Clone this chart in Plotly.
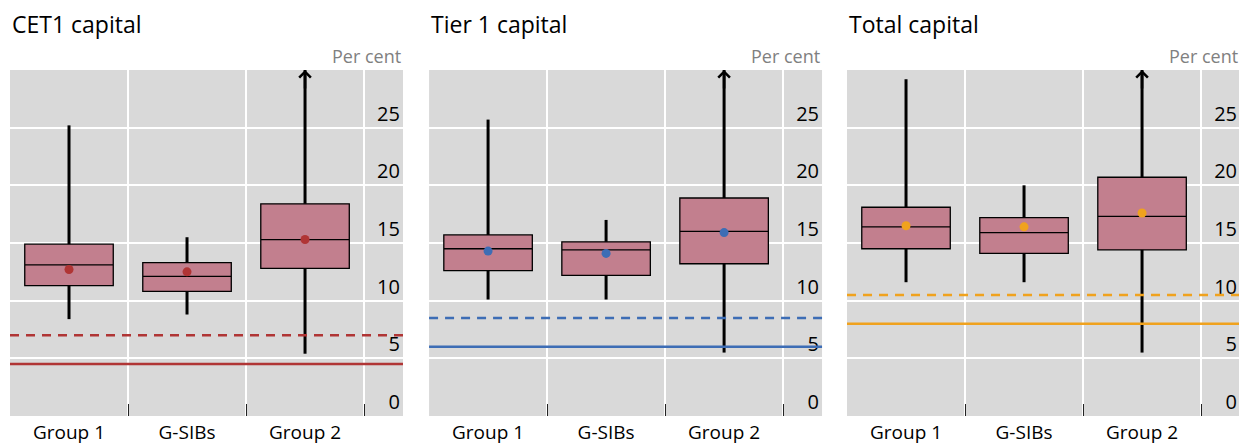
import plotly.graph_objects as go

# ------------------------- DATA -------------------------
groups = ["Group 1", "G-SIBs", "Group 2"]
panels = ["CET1 capital", "Tier 1 capital", "Total capital"]

# box statistics per panel (per cent), order follows `groups`
cet1_low = [8.4, 8.8, 5.4]
cet1_q1 = [11.3, 10.8, 12.8]
cet1_med = [13.1, 12.1, 15.3]
cet1_q3 = [14.9, 13.3, 18.4]
cet1_high = [25.2, 15.5, 30.0]
cet1_mean = [12.7, 12.5, 15.3]

tier1_low = [10.1, 10.1, 5.5]
tier1_q1 = [12.6, 12.2, 13.2]
tier1_med = [14.5, 14.4, 16.0]
tier1_q3 = [15.7, 15.1, 18.9]
tier1_high = [25.7, 17.0, 30.0]
tier1_mean = [14.3, 14.1, 15.9]

total_low = [11.6, 11.6, 5.5]
total_q1 = [14.5, 14.1, 14.4]
total_med = [16.4, 15.9, 17.3]
total_q3 = [18.1, 17.2, 20.7]
total_high = [29.2, 20.0, 30.0]
total_mean = [16.5, 16.4, 17.6]

# upper whisker runs off the scale (drawn with an arrow)
off_scale = [False, False, True]

# regulatory minimum and minimum plus conservation buffer
minimum = [4.5, 6.0, 8.0]
with_buffer = [7.0, 8.5, 10.5]

y_ticks = [0, 5, 10, 15, 20, 25]

# ------------------------- STYLE -------------------------
box_fill = "#c27f8e"
accent = ["#b03535", "#3d6db5", "#f0a21e"]
bg = "#d9d9d9"
font = "Open Sans"

stats = [
    (cet1_low, cet1_q1, cet1_med, cet1_q3, cet1_high, cet1_mean),
    (tier1_low, tier1_q1, tier1_med, tier1_q3, tier1_high, tier1_mean),
    (total_low, total_q1, total_med, total_q3, total_high, total_mean),
]

# panel domains in paper coords (plot area 1230 px wide)
domains = [[0.0, 0.3195], [0.3407, 0.6602], [0.6805, 1.0]]

fig = go.Figure()

for i, (low, q1, med, q3, high, mean) in enumerate(stats):
    xa = "x" if i == 0 else f"x{i + 1}"
    ya = "y" if i == 0 else f"y{i + 1}"

    # whiskers (thicker than box outline)
    wx, wy = [], []
    for g, lo, a, b, hi in zip(groups, low, q1, q3, high):
        wx += [g, g, None, g, g, None]
        wy += [lo, a, None, b, hi, None]
    fig.add_trace(go.Scatter(x=wx, y=wy, mode="lines", xaxis=xa, yaxis=ya,
                             line=dict(color="black", width=3),
                             showlegend=False, hoverinfo="skip"))

    fig.add_trace(go.Box(x=groups, q1=q1, median=med, q3=q3,
                         lowerfence=q1, upperfence=q3,
                         xaxis=xa, yaxis=ya, width=0.75, whiskerwidth=0,
                         fillcolor=box_fill,
                         line=dict(color="black", width=1.3),
                         boxpoints=False, showlegend=False))

    fig.add_trace(go.Scatter(x=groups, y=mean, mode="markers", xaxis=xa, yaxis=ya,
                             marker=dict(color=accent[i], size=9),
                             showlegend=False))

    # requirement lines across the panel
    fig.add_shape(type="line", xref=f"{xa} domain", yref=ya, x0=0, x1=1,
                  y0=minimum[i], y1=minimum[i], layer="above",
                  line=dict(color=accent[i], width=2.5))
    fig.add_shape(type="line", xref=f"{xa} domain", yref=ya, x0=0, x1=1,
                  y0=with_buffer[i], y1=with_buffer[i], layer="above",
                  line=dict(color=accent[i], width=2.5, dash="9px,7px"))

    # arrows for off-scale whiskers
    for g, flag in zip(groups, off_scale):
        if flag:
            fig.add_annotation(x=g, y=30, xref=xa, yref=ya, text="",
                               showarrow=True, ax=0, ay=20, arrowhead=4,
                               arrowsize=0.9, arrowwidth=2.5, arrowcolor="black")

    # panel title and unit
    fig.add_annotation(x=domains[i][0], y=1.133, xref="paper", yref="paper",
                       text=panels[i], showarrow=False, xanchor="left",
                       yanchor="middle", font=dict(size=23, color="black"))
    fig.add_annotation(x=domains[i][1], y=1.04, xref="paper", yref="paper",
                       text="Per cent", showarrow=False, xanchor="right",
                       yanchor="middle", font=dict(size=18, color="#808080"))

    xkey = "xaxis" if i == 0 else f"xaxis{i + 1}"
    ykey = "yaxis" if i == 0 else f"yaxis{i + 1}"
    fig.update_layout({
        xkey: dict(domain=domains[i], anchor=ya, type="category",
                   categoryorder="array", categoryarray=groups,
                   range=[-0.5, 2.83], tickson="boundaries", ticks="inside",
                   ticklen=12, tickcolor="#222", tickwidth=1,
                   ticklabelstandoff=3, automargin=False,
                   showgrid=True, gridcolor="white", gridwidth=1.5,
                   tickfont=dict(size=19, color="black"), fixedrange=True),
        ykey: dict(anchor=xa, range=[0, 30], tickvals=y_ticks, side="right",
                   ticklabelposition="inside top", showgrid=True,
                   automargin=False,
                   gridcolor="white", gridwidth=1.5, zeroline=False,
                   tickfont=dict(size=20, color="black"), fixedrange=True),
    })

# page body has an 8px margin, so the figure is sized and shifted for it
fig.update_layout(
    width=1239, height=439,
    margin=dict(l=2, r=7, t=62, b=31, autoexpand=False),
    paper_bgcolor="white", plot_bgcolor=bg,
    font=dict(family=font),
    boxmode="overlay",
)

fig.write_html("out.html")
